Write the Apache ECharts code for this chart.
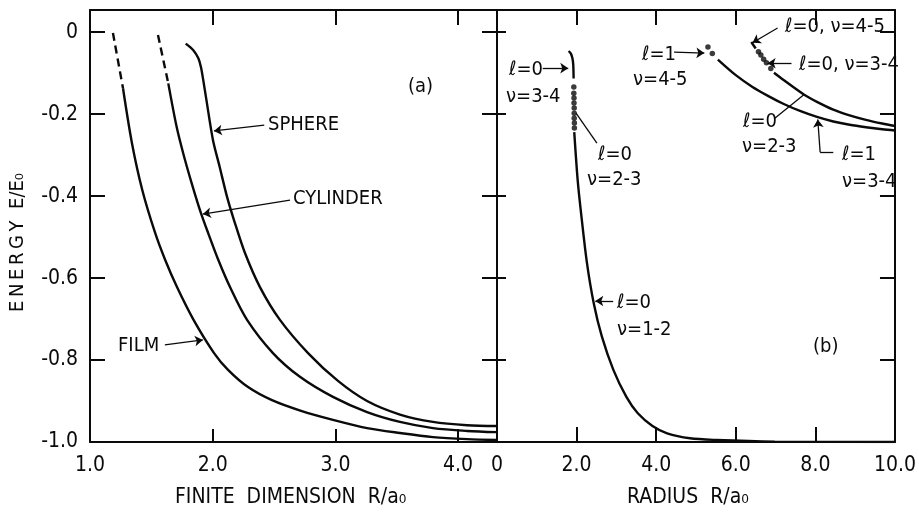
<!DOCTYPE html>
<html>
<head>
    <meta charset="utf-8">
    <title>energy</title>
    <script src="https://cdn.jsdelivr.net/npm/echarts@6/dist/echarts.min.js"></script>
    <style>
        html, body { margin: 0; padding: 0; background: #fff; }
        #main { width: 919px; height: 513px; }
    </style>
</head>
<body>
<div id="main"></div>
<script>
    // panel (a): finite dimension R/a0 vs E/E0
    var filmDash = [[1.187, -0.002], [1.269, -0.137]];
    var film = [[1.269, -0.137], [1.342, -0.271], [1.426, -0.385], [1.531, -0.490], [1.613, -0.556],
        [1.709, -0.622], [1.844, -0.702], [2.011, -0.783], [2.125, -0.824], [2.288, -0.866], [2.483, -0.898],
        [2.720, -0.924], [2.980, -0.946], [3.258, -0.966], [3.526, -0.978], [3.795, -0.988], [4.073, -0.993],
        [4.317, -0.995]];
    var cylDash = [[1.554, -0.007], [1.638, -0.125]];
    var cylinder = [[1.638, -0.125], [1.706, -0.231], [1.760, -0.296], [1.829, -0.369], [1.896, -0.434],
        [1.964, -0.491], [2.046, -0.556], [2.141, -0.622], [2.280, -0.702], [2.491, -0.783], [2.711, -0.841],
        [2.980, -0.890], [3.258, -0.927], [3.526, -0.951], [3.795, -0.966], [4.073, -0.973], [4.317, -0.976]];
    var sphere = [[1.780, -0.028], [1.842, -0.044], [1.883, -0.064], [1.904, -0.085], [1.923, -0.117],
        [1.949, -0.166], [2.002, -0.263], [2.057, -0.329], [2.117, -0.402], [2.174, -0.459], [2.263, -0.539],
        [2.385, -0.622], [2.548, -0.702], [2.777, -0.783], [3.021, -0.851], [3.258, -0.900], [3.526, -0.933],
        [3.795, -0.951], [4.073, -0.959], [4.317, -0.961]];

    // panel (b): radius R/a0 vs E/E0
    var l0Arc = [[1.80, -0.046], [1.86, -0.053], [1.895, -0.064], [1.915, -0.078], [1.925, -0.113]];
    var l0Dots = [[1.93, -0.134], [1.93, -0.149], [1.935, -0.161], [1.935, -0.173], [1.94, -0.185],
        [1.94, -0.198], [1.94, -0.210], [1.945, -0.222], [1.945, -0.234]];
    var l0Main = [[1.941, -0.244], [2.027, -0.361], [2.113, -0.442], [2.260, -0.563], [2.432, -0.662],
        [2.636, -0.743], [2.924, -0.824], [3.251, -0.890], [3.538, -0.930], [3.907, -0.961], [4.275, -0.979],
        [4.848, -0.991], [5.504, -0.995], [6.978, -0.999], [10.0, -1.0]];
    var l1Dots = [[5.30, -0.036], [5.41, -0.052]];
    var l1Curve = [[5.55, -0.067], [6.00, -0.105], [6.41, -0.133], [6.82, -0.156], [7.22, -0.176], [7.63, -0.193],
        [8.04, -0.207], [8.45, -0.218], [8.86, -0.226], [9.27, -0.232], [9.68, -0.237], [10.0, -0.240]];
    var l0Seg = [[6.39, -0.024], [6.50, -0.040]];
    var l0UpDots = [[6.57, -0.048], [6.63, -0.056], [6.70, -0.066], [6.77, -0.075], [6.88, -0.089]];
    var l0UpCurve = [[6.96, -0.099], [7.22, -0.118], [7.71, -0.152], [8.04, -0.170], [8.45, -0.189], [8.86, -0.203],
        [9.27, -0.214], [9.68, -0.223], [10.0, -0.229]];

    var yTicks = [0, -0.2, -0.4, -0.6, -0.8, -1.0];
    var xTicksA = [1, 2, 3, 4];
    var xTicksB = [0, 2, 4, 6, 8, 10];

    var FONT = "'DejaVu Sans Condensed','Liberation Sans Narrow',sans-serif";
    var INK = '#0a0a0a';

    function inList(list, v) {
        for (var i = 0; i < list.length; i++) {
            if (Math.abs(list[i] - v) < 1e-6) return true;
        }
        return false;
    }

    function fmt(v) {
        if (Math.abs(v) < 1e-6) return '0';
        return v.toFixed(1);
    }

    function xAxis(grid, pos, min, max, interval, ticks, tickLen, labels) {
        return {
            type: 'value', gridIndex: grid, position: pos, min: min, max: max, interval: interval,
            splitLine: {show: false},
            axisLine: {show: true, onZero: false, lineStyle: {color: INK, width: 2}},
            axisTick: {show: true, inside: true, length: tickLen, lineStyle: {color: INK, width: 2}},
            axisLabel: {
                show: labels, margin: 13, color: INK, fontFamily: FONT, fontSize: 21,
                formatter: function (v) { return inList(ticks, v) ? fmt(v) : ''; }
            }
        };
    }

    function yAxis(grid, pos, tickLen, labels) {
        return {
            type: 'value', gridIndex: grid, position: pos, min: -1.0, max: 0.054, interval: 0.2,
            splitLine: {show: false},
            axisLine: {show: true, onZero: false, lineStyle: {color: INK, width: 2}},
            axisTick: {show: true, inside: true, length: tickLen, lineStyle: {color: INK, width: 2}},
            axisLabel: {
                show: labels, margin: 12, color: INK, fontFamily: FONT, fontSize: 21,
                formatter: function (v) { return inList(yTicks, v) ? fmt(v) : ''; }
            }
        };
    }

    function curve(data, ax, dashed) {
        return {
            type: 'line', xAxisIndex: ax, yAxisIndex: ax, data: data, showSymbol: false,
            smooth: 0.3, silent: true,
            lineStyle: {color: INK, width: 2.4, type: dashed ? [8, 5] : 'solid'}
        };
    }

    function dots(data, ax) {
        return {
            type: 'scatter', xAxisIndex: ax, yAxisIndex: ax, data: data, symbol: 'circle', symbolSize: 5.5,
            itemStyle: {color: INK}, silent: true
        };
    }

    function arrow(a, b, head) {
        return [{coord: a, symbol: 'none'}, {coord: b, symbol: head ? 'arrow' : 'none'}];
    }

    function notes(ax, lines) {
        return {
            type: 'line', xAxisIndex: ax, yAxisIndex: ax, data: [], silent: true,
            markLine: {
                silent: true, animation: false, symbolSize: 8,
                label: {show: false},
                lineStyle: {color: INK, width: 1.3, type: 'solid'},
                data: lines
            }
        };
    }

    function txt(s, x, y, size) {
        return {
            type: 'text', x: x, y: y, silent: true,
            style: {text: s, font: (size || 20) + 'px ' + FONT, fill: INK, verticalAlign: 'middle', align: 'left'}
        };
    }

    var myChart = echarts.init(document.getElementById('main'), null, {renderer: 'canvas'});

    var option = {
        backgroundColor: '#fff',
        animation: false,
        grid: [
            {left: 90, right: 422, top: 10, bottom: 71},
            {left: 497, right: 16, top: 10, bottom: 71}
        ],
        xAxis: [
            xAxis(0, 'bottom', 1.0, 4.317, 1, xTicksA, 13, true),
            xAxis(1, 'bottom', 0, 10, 2, xTicksB, 15, true),
            xAxis(0, 'top', 1.0, 4.317, 1, xTicksA, 15, false),
            xAxis(1, 'top', 0, 10, 2, xTicksB, 15, false)
        ],
        yAxis: [
            yAxis(0, 'left', 15, true),
            yAxis(1, 'right', 15, false),
            yAxis(0, 'right', 15, false),
            yAxis(1, 'left', 9, false)
        ],
        series: [
            curve(filmDash, 0, true),
            curve(film, 0, false),
            curve(cylDash, 0, true),
            curve(cylinder, 0, false),
            curve(sphere, 0, false),
            notes(0, [
                arrow([2.42, -0.227], [2.01, -0.241], true),
                arrow([2.63, -0.410], [1.92, -0.444], true),
                arrow([1.61, -0.763], [1.92, -0.751], true)
            ]),
            curve(l0Arc, 1, false),
            dots(l0Dots, 1),
            curve(l0Main, 1, false),
            dots(l1Dots, 1),
            curve(l1Curve, 1, false),
            curve(l0Seg, 1, false),
            dots(l0UpDots, 1),
            curve(l0UpCurve, 1, false),
            notes(1, [
                arrow([1.15, -0.088], [1.79, -0.088], true),
                arrow([2.51, -0.271], [1.99, -0.198], false),
                arrow([4.45, -0.049], [5.21, -0.051], true),
                arrow([7.05, 0.010], [6.42, -0.026], true),
                arrow([7.40, -0.076], [6.80, -0.076], true),
                arrow([6.98, -0.210], [7.71, -0.153], false),
                arrow([8.45, -0.293], [8.12, -0.293], false),
                arrow([8.12, -0.293], [8.06, -0.213], true),
                arrow([2.92, -0.656], [2.47, -0.656], true)
            ])
        ],
        graphic: [
            // panel (a) labels
            txt('(a)', 408, 87),
            txt('SPHERE', 268, 125),
            txt('CYLINDER', 293, 199),
            txt('FILM', 118, 346),
            // panel (b) labels
            txt('ℓ=0', 509, 70),
            txt('ν=3-4', 506, 97),
            txt('ℓ=0', 598, 155),
            txt('ν=2-3', 587, 180),
            txt('ℓ=1', 642, 55),
            txt('ν=4-5', 633, 80),
            txt('ℓ=0, ν=4-5', 785, 27),
            txt('ℓ=0, ν=3-4', 799, 65),
            txt('ℓ=0', 743, 122),
            txt('ν=2-3', 742, 147),
            txt('ℓ=1', 842, 155),
            txt('ν=3-4', 842, 182),
            txt('ℓ=0', 617, 303),
            txt('ν=1-2', 617, 330),
            txt('(b)', 813, 347),
            // axis titles
            txt('FINITE  DIMENSION  R/a₀', 175, 498, 21),
            txt('RADIUS  R/a₀', 627, 498, 21),
            {
                type: 'text', x: 18, y: 312, rotation: Math.PI / 2, silent: true,
                style: {
                    text: 'E\u2009N\u2009E\u2009R\u2009G\u2009Y  E/E₀',
                    font: '20px ' + FONT, fill: INK, verticalAlign: 'middle', align: 'left'
                }
            }
        ]
    };

    myChart.setOption(option);
</script>
</body>
</html>
